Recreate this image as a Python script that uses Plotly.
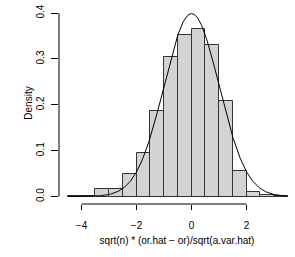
import numpy as np
import plotly.graph_objects as go

bin_left = [-4.5, -4.0, -3.5, -3.0, -2.5, -2.0, -1.5, -1.0, -0.5, 0.0, 0.5, 1.0, 1.5, 2.0, 2.5, 3.0]
density = [0.002, 0.002, 0.016, 0.016, 0.050, 0.096, 0.186, 0.305, 0.353, 0.366, 0.330, 0.209, 0.056, 0.010, 0.004, 0.001]
bin_width = 0.5
x_ticks = [-4, -2, 0, 2]
y_ticks = [0.0, 0.1, 0.2, 0.3, 0.4]
y_tick_labels = ["0.0", "0.1", "0.2", "0.3", "0.4"]

centers = [b + bin_width / 2 for b in bin_left]

xc = np.linspace(-4.5, 3.5, 400)
yc = np.exp(-xc ** 2 / 2) / np.sqrt(2 * np.pi)

font = dict(family="Liberation Sans, Arial, sans-serif", size=10, color="black")

fig = go.Figure()
fig.add_trace(go.Bar(x=centers, y=density, width=bin_width,
                     marker=dict(color="#D3D3D3", line=dict(color="#333333", width=1)),
                     hoverinfo="skip"))
fig.add_trace(go.Scatter(x=xc, y=yc, mode="lines", line=dict(color="black", width=1),
                         hoverinfo="skip"))

# R-style axis lines spanning only the tick range
fig.add_shape(type="line", xref="x", yref="paper", x0=min(x_ticks), x1=max(x_ticks), y0=0, y1=0,
              line=dict(color="black", width=1))
fig.add_shape(type="line", xref="paper", yref="y", x0=0, x1=0, y0=min(y_ticks), y1=max(y_ticks),
              line=dict(color="black", width=1))

fig.update_layout(
    width=295, height=257,
    margin=dict(l=59, r=0, t=2, b=53),
    plot_bgcolor="white", paper_bgcolor="white",
    showlegend=False, bargap=0, font=font,
    xaxis=dict(range=[-4.82, 3.76], tickvals=x_ticks, ticktext=["\u22124", "\u22122", "0", "2"],
               ticks="outside", ticklen=5, tickcolor="black", showgrid=False, zeroline=False,
               showline=False, tickfont=font, automargin=False, ticklabelstandoff=7,
               title=dict(text="sqrt(n) * (or.hat \u2212 or)/sqrt(a.var.hat)", font=font, standoff=6)),
    yaxis=dict(range=[-0.0163, 0.4243], tickvals=y_ticks, ticktext=y_tick_labels,
               ticks="outside", ticklen=7, tickcolor="black", showgrid=False, zeroline=False,
               showline=False, tickangle=-90, tickfont=font, automargin=False, ticklabelstandoff=3,
               title=dict(text="Density", font=font, standoff=0)),
)

fig.write_html("out.html", config={"displayModeBar": False},
               post_script="document.body.style.margin='0';document.body.style.overflow='hidden';")
